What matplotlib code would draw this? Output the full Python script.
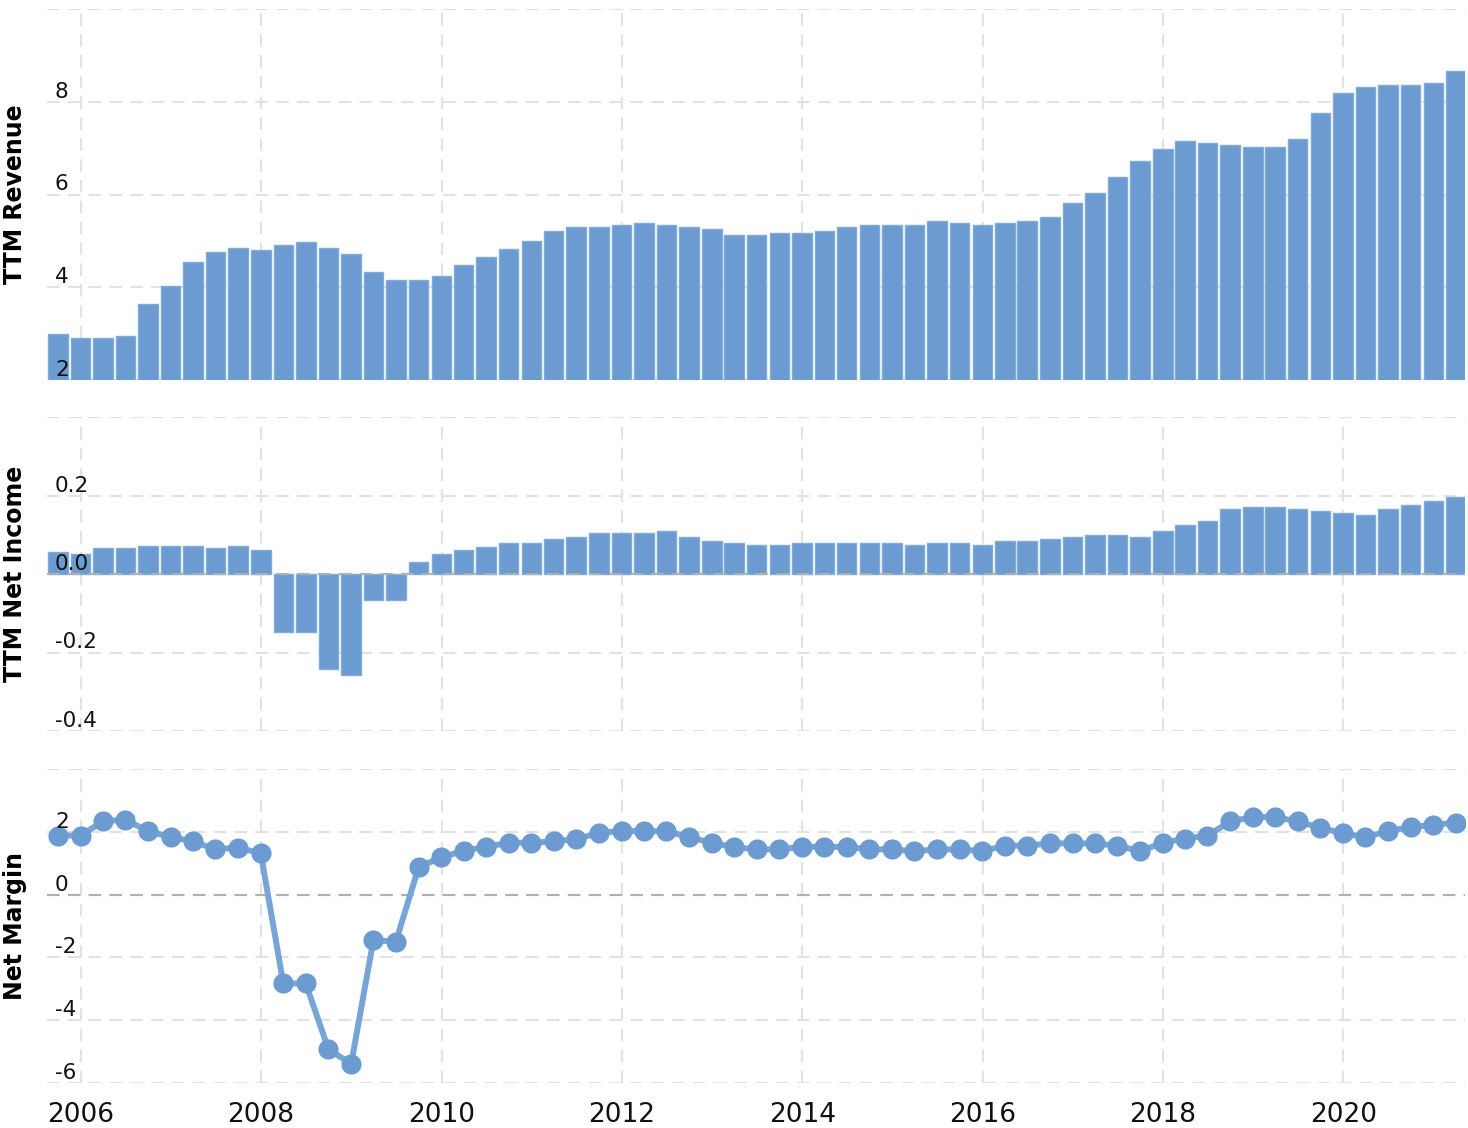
import numpy as np
import pandas as pd
import matplotlib
matplotlib.use("Agg")
import matplotlib.pyplot as plt
import matplotlib.dates as mdates

# quarter end dates, Q3 2005 .. Q1 2021
quarters = pd.date_range("2005-09-30", periods=63, freq="QE")

revenue = [2.99, 2.90, 2.90, 2.95, 3.63, 4.02, 4.54, 4.75, 4.84, 4.80,
           4.92, 4.97, 4.84, 4.71, 4.32, 4.15, 4.15, 4.24, 4.49, 4.66,
           4.83, 5.00, 5.21, 5.30, 5.30, 5.35, 5.39, 5.35, 5.30, 5.26,
           5.13, 5.13, 5.17, 5.17, 5.21, 5.30, 5.35, 5.35, 5.35, 5.43,
           5.39, 5.35, 5.39, 5.43, 5.52, 5.82, 6.03, 6.38, 6.73, 6.98,
           7.15, 7.11, 7.07, 7.02, 7.02, 7.20, 7.76, 8.19, 8.32, 8.36,
           8.36, 8.41, 8.66]

net_income = [0.056, 0.051, 0.066, 0.066, 0.071, 0.071, 0.071, 0.066, 0.071, 0.061,
              -0.147, -0.147, -0.243, -0.258, -0.065, -0.065, 0.030, 0.051, 0.061, 0.068,
              0.079, 0.079, 0.089, 0.094, 0.104, 0.104, 0.104, 0.109, 0.094, 0.084,
              0.079, 0.074, 0.074, 0.079, 0.079, 0.079, 0.079, 0.079, 0.074, 0.079,
              0.079, 0.074, 0.084, 0.084, 0.089, 0.094, 0.099, 0.099, 0.094, 0.109,
              0.124, 0.134, 0.165, 0.170, 0.170, 0.165, 0.160, 0.155, 0.150, 0.165,
              0.175, 0.185, 0.195]

net_margin = [1.88, 1.88, 2.33, 2.39, 2.02, 1.83, 1.70, 1.44, 1.50, 1.31,
              -2.83, -2.83, -4.93, -5.39, -1.45, -1.50, 0.87, 1.19, 1.39, 1.52,
              1.65, 1.65, 1.70, 1.76, 1.97, 2.02, 2.02, 2.02, 1.83, 1.65,
              1.51, 1.44, 1.44, 1.52, 1.52, 1.52, 1.44, 1.44, 1.38, 1.44,
              1.44, 1.38, 1.56, 1.56, 1.63, 1.63, 1.63, 1.56, 1.38, 1.65,
              1.78, 1.88, 2.33, 2.47, 2.47, 2.33, 2.13, 1.95, 1.83, 2.02,
              2.15, 2.22, 2.29]

rev_ticks = [2, 4, 6, 8, 10]
ni_ticks = [-0.4, -0.2, 0.0, 0.2, 0.4]
nm_ticks = [-6, -4, -2, 0, 2, 4]

blue = "#6b9bd1"
grid_col = "#e2e2e2"
zero_col = "#b0b0b0"
dash = (0, (6, 4))

fig = plt.figure(figsize=(14.68, 11.28), dpi=100)
W, H = 1468, 1128
left, right = 47, 1465
panels = [(9, 380), (417, 731), (769, 1083)]
axes = []
for top, bot in panels:
    ax = fig.add_axes([left / W, 1 - bot / H, (right - left) / W, (bot - top) / H])
    axes.append(ax)
ax1, ax2, ax3 = axes

xmin = pd.Timestamp("2005-08-17")
xmax = pd.Timestamp("2021-05-08")
bar_w = 79  # days


def style(ax, ticks, labels, zero=None):
    ax.set_xlim(xmin, xmax)
    ax.set_ylim(ticks[0], ticks[-1])
    for s in ax.spines.values():
        s.set_visible(False)
    ax.set_yticks(ticks)
    ax.set_yticklabels([])
    ax.tick_params(axis="both", length=0)
    ax.xaxis.set_major_locator(mdates.YearLocator(2))
    ax.xaxis.set_major_formatter(mdates.DateFormatter("%Y"))
    ax.grid(True, color=grid_col, linestyle=dash, linewidth=1.5)
    ax.set_axisbelow(True)
    if zero is not None:
        ax.axhline(zero, color=zero_col, linestyle=dash, linewidth=1.5, zorder=2.5)
    # tick labels sit inside the plot, just above the gridline
    for t, lab in zip(ticks[:-1], labels):
        ax.text(0.0056, t, lab, transform=ax.get_yaxis_transform(),
                ha="left", va="bottom", fontsize=15.5, color="#111111", zorder=5)


# TTM revenue
ax1.bar(quarters, revenue, width=bar_w, color=blue, edgecolor="#80acdc",
        linewidth=1, zorder=2)
style(ax1, rev_ticks, ["2", "4", "6", "8"])
ax1.set_xticklabels([])

# TTM net income
ax2.bar(quarters, net_income, width=bar_w, color=blue, edgecolor="#80acdc",
        linewidth=1, zorder=2)
style(ax2, ni_ticks, ["-0.4", "-0.2", "0.0", "0.2"], zero=0)
ax2.set_xticklabels([])

# net margin
ax3.plot(quarters, net_margin, color="#77a5d8", linewidth=4.3, zorder=3,
         marker="o", markersize=14.5, markerfacecolor=blue, markeredgewidth=0)
style(ax3, nm_ticks, ["-6", "-4", "-2", "0", "2"], zero=0)
ax3.tick_params(axis="x", labelsize=19, pad=14, labelcolor="#111111")

fig.text(15 / W, 1 - 194.5 / H, "TTM Revenue", rotation=90, ha="center",
         va="center", fontsize=17, fontweight="bold")
fig.text(15 / W, 1 - 574 / H, "TTM Net Income", rotation=90, ha="center",
         va="center", fontsize=17, fontweight="bold")
fig.text(15 / W, 1 - 926 / H, "Net Margin", rotation=90, ha="center",
         va="center", fontsize=17, fontweight="bold")

fig.savefig("out.png", dpi=100)
